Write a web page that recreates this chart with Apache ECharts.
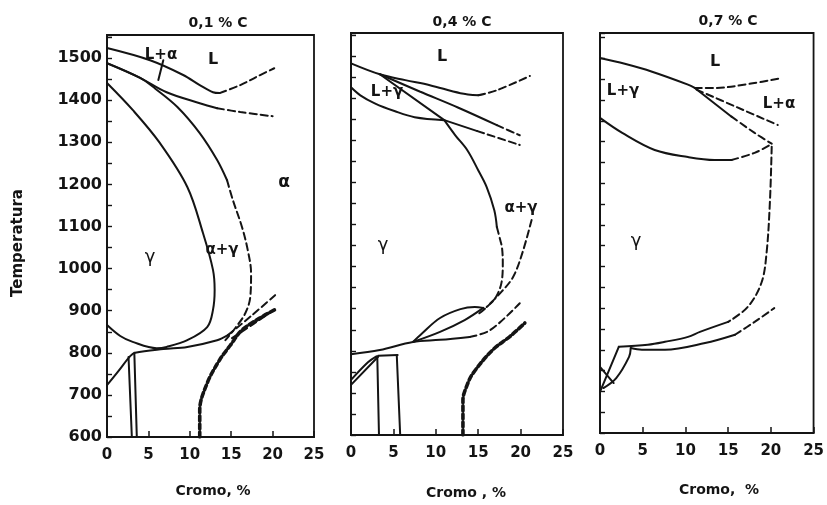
<!DOCTYPE html>
<html>
<head>
<meta charset="utf-8">
<script src="https://cdn.jsdelivr.net/npm/echarts@6/dist/echarts.min.js"></script>
<style>html,body{margin:0;padding:0;background:#fff}#c{width:827px;height:505px}</style>
</head>
<body>
<div id="c"></div>
<script>
// ---------- tick labels / titles ----------
const panelTitles = ['0,1 % C', '0,4 % C', '0,7 % C'];
const xTickLabels = [0, 5, 10, 15, 20, 25];
const yTickLabels = [600, 700, 800, 900, 1000, 1100, 1200, 1300, 1400, 1500];
const xNames = ['Cromo, %', 'Cromo , %', 'Cromo,  %'];
const yName = 'Temperatura';

// ---------- Panel 1 : 0,1 % C  ([Cr %, T °C]) ----------
const p1LiqSolid = [[0,1524],[5.2,1495],[9.2,1460],[11.2,1436],[12.8,1419],[13.6,1417]];
const p1LiqDash = [[13.6,1417],[16.1,1436],[18.2,1457],[20.2,1476]];
const p1SolSolid = [[0,1488],[4.0,1453],[7.2,1419],[11.2,1393],[13.3,1381]];
const p1SolDash = [[13.3,1381],[16.1,1372],[20.0,1362]];
const p1DeltaSolid = [[0,1488],[4.0,1453],[5.8,1428],[8.5,1384],[11.2,1322],[13.3,1258],[14.5,1210]];
const p1DeltaDash = [[14.5,1210],[15.2,1163],[16.3,1099],[17.0,1044],[17.4,989],[17.3,932],[16.7,894],[15.5,859],[14.3,830]];
const p1GammaLoop = [[0,1441],[3.1,1377],[6.4,1298],[9.7,1194],[11.6,1084],[12.8,997],[13.0,949],[12.8,902],[12.1,861],[9.7,830],[7.2,814],[6.0,811],[3.1,826],[1.6,840],[0,866]];
const p1Eutectoid = [[0,723],[1.4,757],[2.8,792],[3.4,800],[6.8,809],[9.7,814],[13.3,830],[14.6,842]];
const p1EutDashA = [[14.6,842],[17.5,889],[20.3,937]];
const p1EutDashB = [[15.1,835],[17.8,870],[20.5,906]];
const p1Vert1 = [[2.6,790],[3.0,600]];
const p1Vert2 = [[3.3,800],[3.6,600]];
const p1Carbide = [[11.2,600],[11.2,664],[12.1,728],[13.6,783],[14.9,818],[16.3,854],[18.5,883],[20.4,904]];
const p1Leader = [[6.8,1495],[6.2,1448]];

// ---------- Panel 2 : 0,4 % C ----------
const p2LiqSolid = [[0,1483],[3.4,1457],[6.4,1443],[9.3,1431],[12.9,1412],[15.0,1407]];
const p2LiqDash = [[15.0,1407],[17.2,1419],[21.1,1453]];
const p2MidSolid = [[3.4,1457],[8.1,1416],[12.6,1378],[17.2,1336]];
const p2MidDash = [[17.2,1336],[19.9,1312]];
const p2Steep = [[3.4,1457],[11.0,1348]];
const p2LowerCurve = [[0,1426],[1.1,1407],[2.8,1388],[5.2,1369],[7.5,1355],[11.0,1348]];
const p2Lower3Solid = [[11.0,1348],[14.9,1322]];
const p2Lower3Dash = [[14.9,1322],[19.9,1289]];
const p2GammaSolid = [[11.0,1348],[12.3,1312],[13.7,1277],[15.0,1229],[16.0,1189],[16.9,1134],[17.2,1094]];
const p2GammaDash = [[17.2,1094],[17.6,1063],[17.8,1046],[17.9,1011],[17.8,968],[17.1,928],[15.9,902],[15.0,887]];
const p2AlphaDash = [[21.3,1111],[20.2,1032],[19.1,975],[17.6,937],[16.0,904]];
const p2LensLow = [[7.3,821],[10.5,845],[13.4,873],[15.6,902]];
const p2LensUp = [[7.3,821],[8.4,842],[10.5,878],[12.9,899],[14.6,904],[15.6,902]];
const p2Eutectoid = [[0,792],[3.4,802],[7.3,821],[10.5,826],[14.0,833]];
const p2EutDash = [[14.0,833],[16.4,849],[19.9,913]];
const p2A1 = [[3.2,788],[5.5,790]];
const p2Vert1 = [[3.1,786],[3.3,600]];
const p2Vert2 = [[5.4,789],[5.8,600]];
const p2SmallA = [[0,719],[3.2,786]];
const p2SmallB = [[0,731],[2.0,773],[3.0,787]];
const p2Carbide = [[13.2,600],[13.2,683],[13.7,719],[14.4,747],[16.7,802],[18.8,835],[20.5,866]];

// ---------- Panel 3 : 0,7 % C ----------
const p3Liq = [[0,1501],[2.9,1487],[6.1,1468],[10.3,1437],[11.1,1429]];
const p3DashA = [[11.1,1429],[13.4,1429],[17.5,1439],[21.3,1453]];
const p3DashB = [[11.3,1425],[16.0,1383],[20.8,1340]];
const p3LineCSolid = [[11.1,1429],[15.4,1360]];
const p3LineCDash = [[15.4,1360],[18.1,1321],[20.1,1295]];
const p3LowerSolid = [[0,1357],[2.6,1321],[6.4,1280],[10.3,1263],[13.4,1256],[15.4,1256]];
const p3LowerDash = [[15.4,1256],[18.1,1273],[19.9,1292]];
const p3GammaDash = [[20.1,1288],[19.9,1160],[19.5,1033],[18.9,961],[17.3,903],[15.0,867]];
const p3GammaSolid = [[15.0,867],[11.7,843],[10.3,831],[7.6,819],[5.6,812],[2.2,807]];
const p3Low2Solid = [[3.6,804],[4.9,800],[7.6,800],[12.3,816],[15.8,836]];
const p3Low2Dash = [[15.8,836],[18.1,867],[20.4,900]];
const p3LineA = [[0,699],[2.2,807]];
const p3CurveB = [[0.4,708],[1.9,732],[3.4,783],[3.6,804]];
const p3LineX = [[0,759],[1.6,720]];

// ---------- drawing ----------
const INK = '#141414';
const FONT = 'DejaVu Sans';
const SOLID = {type:'solid', width:2};
const DASH = {type:[7,4], width:2};
const THICK = {type:[5,3], width:3.6};

const curves = [
  [0,p1LiqSolid,SOLID],[0,p1LiqDash,DASH],[0,p1SolSolid,SOLID],[0,p1SolDash,DASH],
  [0,p1DeltaSolid,SOLID],[0,p1DeltaDash,DASH],[0,p1GammaLoop,SOLID],[0,p1Eutectoid,SOLID],
  [0,p1EutDashA,DASH],[0,p1EutDashB,DASH],[0,p1Vert1,SOLID],[0,p1Vert2,SOLID],
  [0,p1Carbide,THICK],[0,p1Leader,SOLID],
  [1,p2LiqSolid,SOLID],[1,p2LiqDash,DASH],[1,p2MidSolid,SOLID],[1,p2MidDash,DASH],
  [1,p2Steep,SOLID],[1,p2LowerCurve,SOLID],[1,p2Lower3Solid,SOLID],[1,p2Lower3Dash,DASH],
  [1,p2GammaSolid,SOLID],[1,p2GammaDash,DASH],[1,p2AlphaDash,DASH],[1,p2LensLow,SOLID],
  [1,p2LensUp,SOLID],[1,p2Eutectoid,SOLID],[1,p2EutDash,DASH],[1,p2A1,SOLID],
  [1,p2Vert1,SOLID],[1,p2Vert2,SOLID],[1,p2SmallA,SOLID],[1,p2SmallB,SOLID],[1,p2Carbide,THICK],
  [2,p3Liq,SOLID],[2,p3DashA,DASH],[2,p3DashB,DASH],[2,p3LineCSolid,SOLID],[2,p3LineCDash,DASH],
  [2,p3LowerSolid,SOLID],[2,p3LowerDash,DASH],[2,p3GammaDash,DASH],[2,p3GammaSolid,SOLID],
  [2,p3Low2Solid,SOLID],[2,p3Low2Dash,DASH],[2,p3LineA,SOLID],[2,p3CurveB,SOLID],[2,p3LineX,SOLID]
];

const grids = [
  {left:107, top:35, width:207, height:402, ymax:1555},
  {left:351, top:33, width:212, height:402, ymax:1555},
  {left:600, top:33, width:214, height:400, ymax:1561}
];

const chart = echarts.init(document.getElementById('c'), null, {renderer:'canvas'});

const option = {
  animation:false,
  backgroundColor:'#fff',
  grid: grids.map(g => ({left:g.left, top:g.top, width:g.width, height:g.height,
    show:true, borderColor:INK, borderWidth:1.8, backgroundColor:'transparent'})),
  xAxis: grids.map((g,i) => ({
    gridIndex:i, type:'value', min:xTickLabels[0], max:xTickLabels[xTickLabels.length-1], interval:5,
    axisLine:{show:true, lineStyle:{color:INK, width:1.8}},
    axisTick:{show:true, inside:true, length:6, lineStyle:{color:INK, width:1.5}},
    axisLabel:{show:true, margin:11, color:INK, fontFamily:FONT, fontSize:15, fontWeight:'bold'},
    splitLine:{show:false}
  })),
  yAxis: grids.map((g,i) => ({
    gridIndex:i, type:'value', min:600, max:g.ymax, interval:50,
    axisLine:{show:true, lineStyle:{color:INK, width:1.8}},
    axisTick:{show:true, inside:true, length:5, lineStyle:{color:INK, width:1.4}},
    axisLabel:{show:i===0, margin:5, color:INK, fontFamily:FONT, fontSize:16, fontWeight:'bold',
      formatter: v => yTickLabels.indexOf(v) >= 0 ? String(v) : ''},
    splitLine:{show:false}
  })),
  series: curves.map(c => ({
    type:'line', xAxisIndex:c[0], yAxisIndex:c[0], data:c[1],
    showSymbol:false, symbol:'none', smooth:0.35, silent:true, z:3,
    lineStyle:{color:INK, width:c[2].width, type:c[2].type, cap:'round'}
  })),
  graphic: []
};

function txt(s, x, y, size, weight, extra) {
  return Object.assign({type:'text', x:x, y:y, silent:true,
    style:{text:s, fill:INK, font:(weight||'normal')+' '+size+'px "'+FONT+'"', textAlign:'center',
      textVerticalAlign:'middle', verticalAlign:'middle'}}, extra||{});
}

const g = option.graphic;
// titles
g.push(txt(panelTitles[0], 218, 23, 14, 'bold'));
g.push(txt(panelTitles[1], 462, 22, 14, 'bold'));
g.push(txt(panelTitles[2], 728, 21, 14, 'bold'));
// axis names
g.push(txt(xNames[0], 213, 491, 14, 'bold'));
g.push(txt(xNames[1], 466, 493, 14, 'bold'));
g.push(txt(xNames[2], 719, 490, 14, 'bold'));
g.push(txt(yName, 18, 243, 15, 'bold', {rotation:Math.PI/2}));
// region labels panel 1
g.push(txt('L+α', 161, 55, 15, 'bold'));
g.push(txt('L', 213, 60, 16, 'bold'));
g.push(txt('γ', 150, 257, 18));
g.push(txt('α+γ', 222, 250, 15, 'bold'));
g.push(txt('α', 284, 183, 17, 'bold'));
// panel 2
g.push(txt('L', 442, 57, 16, 'bold'));
g.push(txt('L+γ', 387, 92, 15, 'bold'));
g.push(txt('γ', 383, 245, 18));
g.push(txt('α+γ', 521, 208, 15, 'bold'));
// panel 3
g.push(txt('L', 715, 62, 16, 'bold'));
g.push(txt('L+γ', 623, 91, 15, 'bold'));
g.push(txt('L+α', 779, 104, 15, 'bold'));
g.push(txt('γ', 636, 241, 18));

chart.setOption(option);
</script>
</body>
</html>
